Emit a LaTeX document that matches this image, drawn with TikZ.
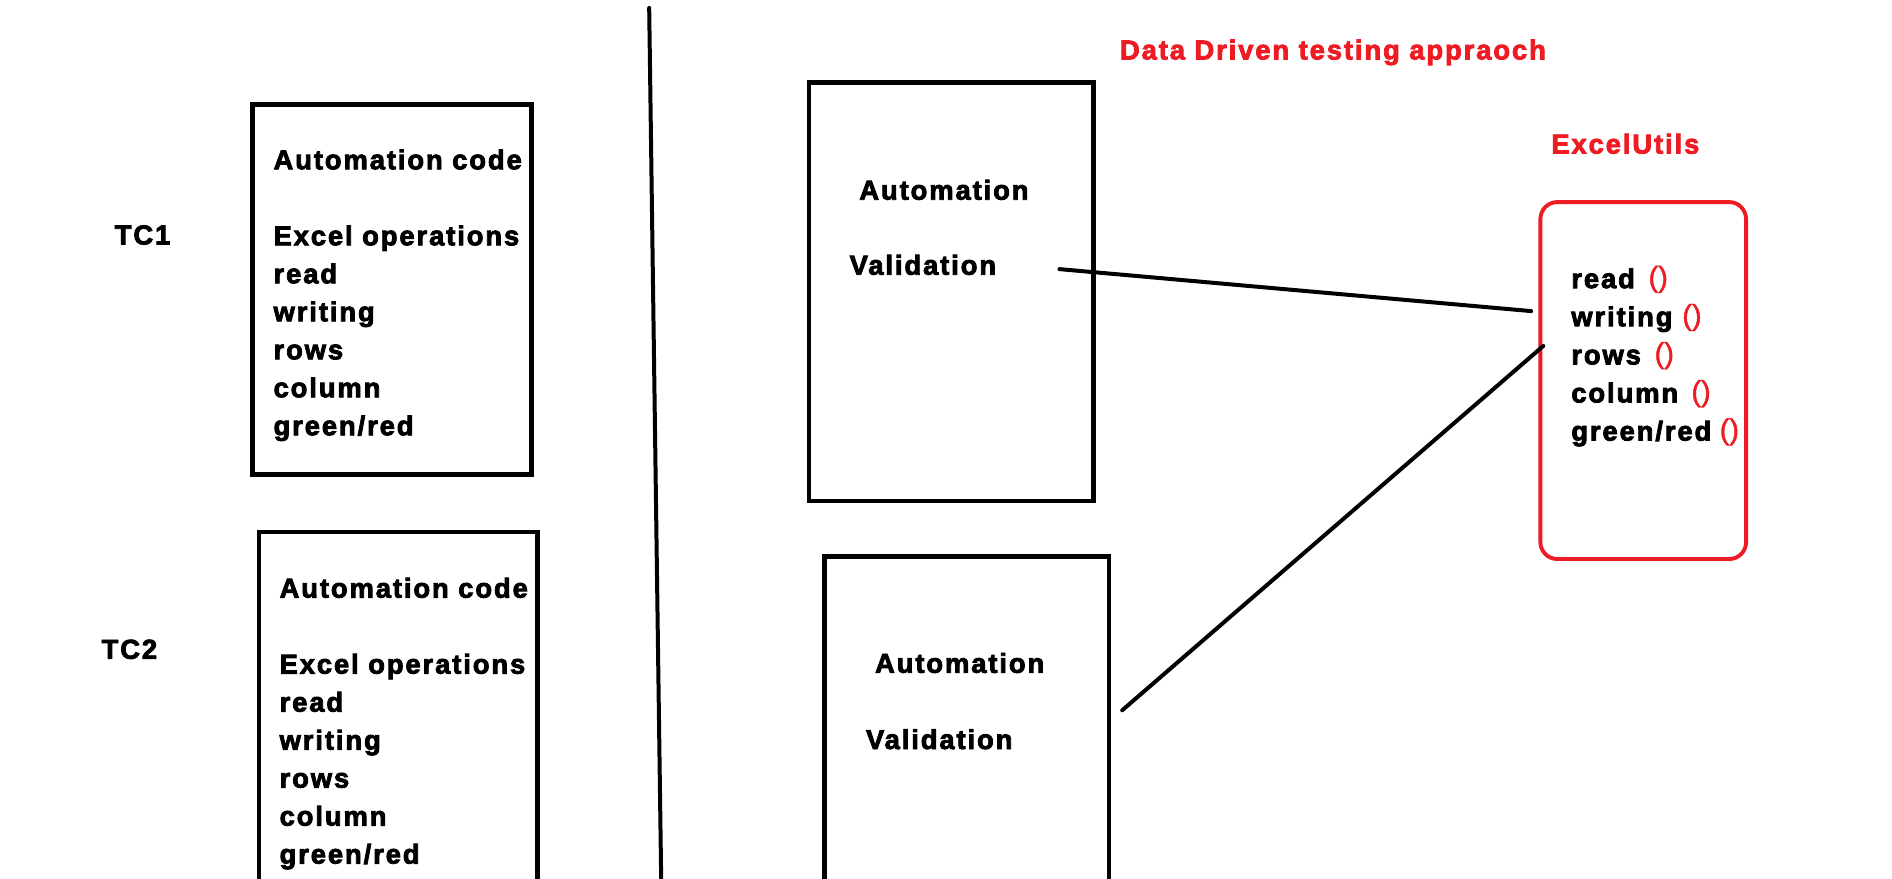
\documentclass[tikz,border=0pt]{standalone}
\usepackage{fontspec}
\setmainfont{Liberation Sans}[LetterSpace=7, BoldFeatures={FakeBold=3}]
\newfontfamily\parfont{Liberation Sans}[FakeBold=1.5]
\definecolor{pred}{RGB}{237,28,36}
\begin{document}
\begin{tikzpicture}[x=1pt,y=-1pt,
  box/.style={draw=black, line width=4pt, rectangle, inner sep=0pt, outer sep=0pt, anchor=north west},
  rbox/.style={draw=pred, line width=3.2pt, rectangle, rounded corners=14pt, inner sep=0pt, outer sep=0pt, anchor=north west},
  txt/.style={font=\bfseries\fontsize{22.6}{31.4}\selectfont, anchor=base west, inner sep=0pt, text=black},
  rtxt/.style={txt, text=pred},
  par/.style={font=\parfont\fontsize{24}{28}\selectfont, text=pred, anchor=base west, inner sep=0pt},
  link/.style={draw=black, line width=3.3pt, line cap=round}]
\useasboundingbox (0,0) rectangle (1563.6,726.4);
\clip (0,0) rectangle (1563.6,726.4);
% divider
\coordinate (divtop) at (536.5,6.5);
\coordinate (divbot) at (546.6,740);
\draw[link] (divtop) -- (divbot);
% left boxes
\node[box, minimum width=230.4pt, minimum height=305.7pt] (b1) at (208.9,86.7) {};
\node[box, minimum width=230pt, minimum height=320pt] (b2) at (214,439.7) {};
% middle boxes
\node[box, minimum width=234.9pt, minimum height=345.8pt] (b3) at (668.6,68.2) {};
\node[box, minimum width=234.9pt, minimum height=320pt] (b4) at (681.6,459.6) {};
% red box
\node[rbox, minimum width=170pt, minimum height=295pt] (ru) at (1273,167) {};
% TC labels
\node[txt] (tc1) at (94.7,202) {TC1};
\node[txt] (tc2) at (83.8,544.4) {TC2};
% box 1 text
\foreach \t [count=\i] in {Automation code, Excel operations, read, writing, rows, column, green/red} {
  \pgfmathsetmacro{\yy}{\i==1 ? 139.9 : 139.9 + (\i)*31.4}
  \node[txt] (bone\i) at (225.9,\yy) {\t};
}
% box 2 text
\foreach \t [count=\i] in {Automation code, Excel operations, read, writing, rows, column, green/red} {
  \pgfmathsetmacro{\yy}{\i==1 ? 493.9 : 493.9 + (\i)*31.4}
  \node[txt] (btwo\i) at (230.9,\yy) {\t};
}
% box 3 and 4 text
\node[txt] (aut3) at (710,165) {Automation};
\node[txt] (val3) at (702,227) {Validation};
\node[txt] (aut4) at (723,556) {Automation};
\node[txt] (val4) at (715.5,619) {Validation};
% titles
\node[rtxt] (title) at (925.4,49.1) {Data Driven testing appraoch};
\node[rtxt] (eu) at (1281.9,126.9) {ExcelUtils};
% red box contents
\node[txt] (fr) at (1298.4,238.1) {read};
\node[txt] (fw) at (1298.4,269.6) {writing};
\node[txt] (fo) at (1298.4,301.1) {rows};
\node[txt] (fc) at (1298.4,332.6) {column};
\node[txt] (fg) at (1298.4,364.1) {green/red};
\node[par] (pr) at (1362.2,237.1) {()};
\node[par] (pw) at (1390.1,268.6) {()};
\node[par] (po) at (1367.2,300.1) {()};
\node[par] (pc) at (1397.6,331.6) {()};
\node[par] (pg) at (1421.0,363.1) {()};
% connectors
\coordinate (l1s) at (875.5,222.4);
\coordinate (l1e) at (1265.4,257.1);
\coordinate (l2s) at (927.4,587);
\coordinate (l2e) at (1275.4,285.9);
\draw[link] (l1s) -- (l1e);
\draw[link] (l2s) -- (l2e);
\end{tikzpicture}
\end{document}
